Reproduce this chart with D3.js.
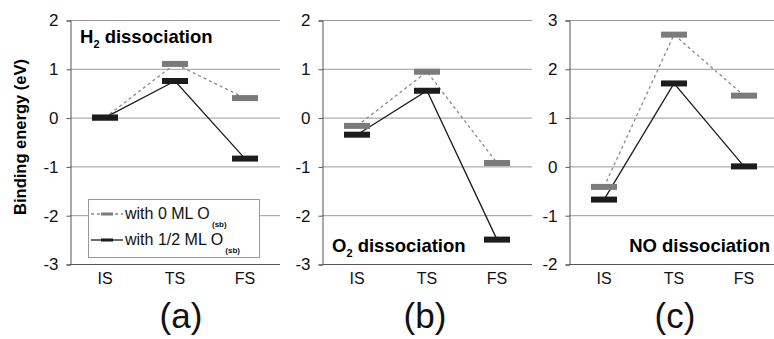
<!DOCTYPE html>
<html>
<head>
<meta charset="utf-8">
<script src="https://cdn.jsdelivr.net/npm/d3@7"></script>
<style>
  body { margin: 0; background: #fff; }
  text { font-family: "Liberation Sans", Arial, sans-serif; }
</style>
</head>
<body>
<div id="chart"></div>
<script>
const stages = ["IS", "TS", "FS"];

// binding energies (eV), clean surface vs 1/2 ML O(sb)
const h2Clean = [0, 1.1, 0.4];
const h2Oxy = [0, 0.75, -0.84];
const o2Clean = [-0.17, 0.94, -0.93];
const o2Oxy = [-0.35, 0.55, -2.5];
const noClean = [-0.42, 2.7, 1.45];
const noOxy = [-0.68, 1.7, 0];

const ticksAB = [-3, -2, -1, 0, 1, 2];
const ticksC = [-2, -1, 0, 1, 2, 3];

const panels = [
  { left: 70, clean: h2Clean, oxy: h2Oxy, ticks: ticksAB, tag: "(a)", tagX: 111 },
  { left: 322, clean: o2Clean, oxy: o2Oxy, ticks: ticksAB, tag: "(b)", tagX: 103 },
  { left: 569, clean: noClean, oxy: noOxy, ticks: ticksC, tag: "(c)", tagX: 106 }
];

var width = 774, height = 339;
var top_ = 20, bottom = 264, panelWidth = 210;
var grayCol = "#7b7b7b", blackCol = "#1c1c1c";

var svg = d3.select("#chart").append("svg")
  .attr("width", width)
  .attr("height", height);

svg.append("text")
  .attr("transform", "translate(26,137) rotate(-90)")
  .attr("text-anchor", "middle")
  .style("font-size", "16.5px")
  .style("font-weight", "bold")
  .text("Binding energy (eV)");

panels.forEach(function (p) {
  var g = svg.append("g").attr("transform", "translate(" + p.left + ",0)");

  var x = d3.scaleBand().domain(stages).range([0, panelWidth]);
  var y = d3.scaleLinear()
    .domain(d3.extent(p.ticks))
    .range([bottom, top_]);

  // grid lines
  g.selectAll(".grid")
    .data(p.ticks)
    .enter().append("line")
    .attr("x1", 0).attr("x2", panelWidth)
    .attr("y1", function (d) { return y(d) + 0.5; })
    .attr("y2", function (d) { return y(d) + 0.5; })
    .style("stroke", function (d, i) { return i == 0 ? "#555" : "#999"; })
    .style("stroke-width", 1);

  // left frame + ticks
  var yAxis = d3.axisLeft(y).tickValues(p.ticks).tickSize(4).tickPadding(8);
  var ax = g.append("g").attr("transform", "translate(0.5,0.5)").call(yAxis);
  ax.select(".domain").attr("stroke", "#555");
  ax.selectAll(".tick line").attr("stroke", "#555");
  ax.selectAll(".tick text")
    .style("font-size", "17px")
    .attr("fill", "#111")
    .text(function (d) { return d < 0 ? "-" + Math.abs(d) : d; });

  var xAxis = d3.axisBottom(x).tickSize(0).tickPadding(9);
  var bx = g.append("g").attr("transform", "translate(0," + bottom + ")").call(xAxis);
  bx.select(".domain").remove();
  bx.selectAll(".tick text").style("font-size", "16px").attr("fill", "#111");

  var cx = function (d, i) { return x(stages[i]) + x.bandwidth() / 2; };
  var line = d3.line().x(function (d, i) { return cx(d, i); }).y(function (d) { return y(d); });

  g.append("path")
    .datum(p.clean)
    .attr("d", line)
    .attr("fill", "none")
    .attr("stroke", "#888")
    .attr("stroke-width", 1.3)
    .attr("stroke-dasharray", "3,3");

  g.append("path")
    .datum(p.oxy)
    .attr("d", line)
    .attr("fill", "none")
    .attr("stroke", blackCol)
    .attr("stroke-width", 1.3);

  var barW = 26, barH = 6;
  g.selectAll(".clean")
    .data(p.clean)
    .enter().append("rect")
    .attr("x", function (d, i) { return cx(d, i) - barW / 2; })
    .attr("y", function (d) { return y(d) - barH / 2; })
    .attr("width", barW).attr("height", barH)
    .style("fill", grayCol);

  g.selectAll(".oxy")
    .data(p.oxy)
    .enter().append("rect")
    .attr("x", function (d, i) { return cx(d, i) - barW / 2; })
    .attr("y", function (d) { return y(d) - barH / 2; })
    .attr("width", barW).attr("height", barH)
    .style("fill", blackCol);

  svg.append("text")
    .attr("x", p.left + p.tagX)
    .attr("y", 328)
    .attr("text-anchor", "middle")
    .style("font-size", "35px")
    .attr("fill", "#111")
    .text(p.tag);
});

// titles
var t1 = svg.append("text").attr("x", 80).attr("y", 43)
  .style("font-size", "18.5px").style("font-weight", "bold");
t1.append("tspan").text("H");
t1.append("tspan").attr("dy", 5).style("font-size", "11px").text("2");
t1.append("tspan").attr("dy", -5).text(" dissociation");

var t2 = svg.append("text").attr("x", 332).attr("y", 252)
  .style("font-size", "18.5px").style("font-weight", "bold");
t2.append("tspan").text("O");
t2.append("tspan").attr("dy", 5).style("font-size", "11px").text("2");
t2.append("tspan").attr("dy", -5).text(" dissociation");

svg.append("text").attr("x", 770).attr("y", 252)
  .attr("text-anchor", "end")
  .style("font-size", "18.5px").style("font-weight", "bold")
  .text("NO dissociation");

// legend
var legend = svg.append("g");
legend.append("rect")
  .attr("x", 88.5).attr("y", 199.5)
  .attr("width", 171).attr("height", 58)
  .style("fill", "#fff").style("stroke", "#999");

var items = [
  { label: "with 0 ML O", dash: "3,3", col: "#888", mark: grayCol, y: 214 },
  { label: "with 1/2 ML O", dash: null, col: blackCol, mark: blackCol, y: 240 }
];
items.forEach(function (it) {
  legend.append("line")
    .attr("x1", 91).attr("x2", 123)
    .attr("y1", it.y).attr("y2", it.y)
    .attr("stroke", it.col).attr("stroke-width", 1.3)
    .attr("stroke-dasharray", it.dash);
  legend.append("rect")
    .attr("x", 101).attr("y", it.y - 1.5)
    .attr("width", 12).attr("height", 3)
    .style("fill", it.mark);
  var t = legend.append("text").attr("x", 125).attr("y", it.y + 5)
    .style("font-size", "16px").attr("fill", "#111");
  t.append("tspan").text(it.label);
  t.append("tspan").attr("dy", 8).style("font-size", "8px").style("font-weight", "bold").text(" (sb)");
});
</script>
</body>
</html>
